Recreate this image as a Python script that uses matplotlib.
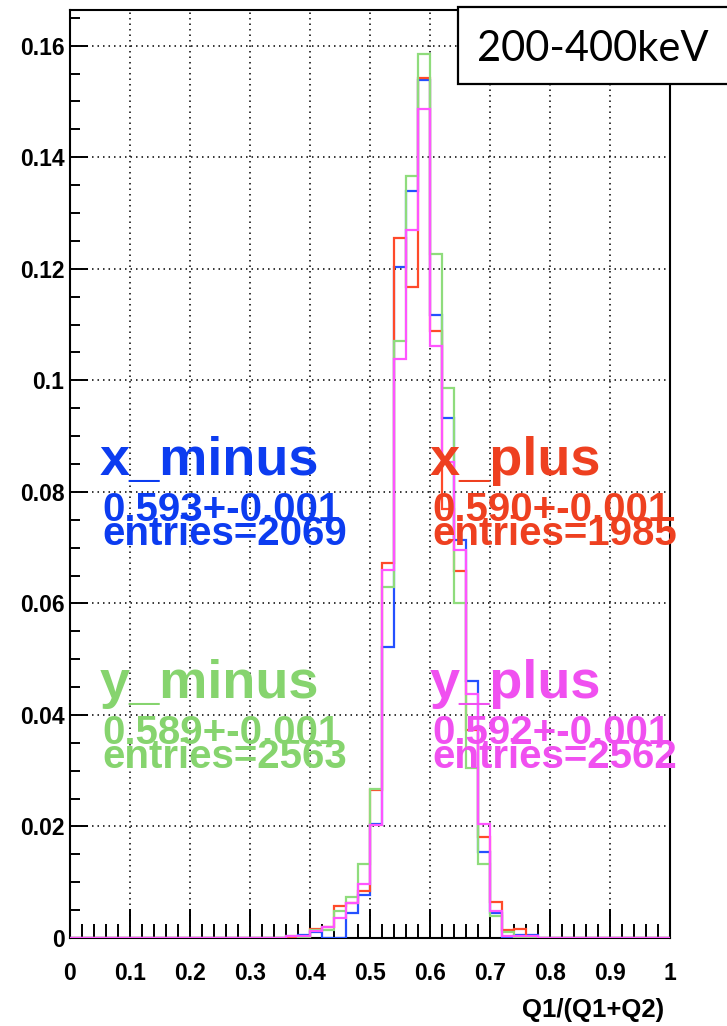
import numpy as np
import matplotlib
matplotlib.use("Agg")
import matplotlib.pyplot as plt
from matplotlib.patches import Rectangle

# ---- data -------------------------------------------------------------
# 50 bins of width 0.02 on [0, 1]; non-zero content starts at bin 0.36
bin_edges = np.linspace(0.0, 1.0, 51)
first_bin = 18  # bin starting at 0.36

x_minus = [0, 0.0005, 0.0010, 0, 0, 0.0044, 0.0077, 0.0205, 0.0521, 0.1203,
           0.1340, 0.1539, 0.1117, 0.0933, 0.0714, 0.0460, 0.0155, 0.0045,
           0, 0.0005, 0.0005]
x_plus = [0, 0, 0.0017, 0.0020, 0.0057, 0.0063, 0.0085, 0.0265, 0.0672, 0.1255,
          0.1167, 0.1542, 0.1088, 0.0770, 0.0658, 0.0373, 0.0181, 0.0065,
          0.0014, 0.0017, 0]
y_minus = [0.0004, 0, 0.0014, 0.0014, 0.0048, 0.0074, 0.0133, 0.0268, 0.0630, 0.1071,
           0.1366, 0.1586, 0.1226, 0.0987, 0.0601, 0.0304, 0.0132, 0.0039,
           0.0011, 0, 0]
y_plus = [0.0004, 0.0004, 0.0012, 0.0020, 0.0036, 0.0063, 0.0097, 0.0203, 0.0660, 0.1038,
          0.1269, 0.1487, 0.1062, 0.0853, 0.0696, 0.0437, 0.0205, 0.0048,
          0.0004, 0.0004, 0.0004]

series_names = ["x_minus", "x_plus", "y_minus", "y_plus"]
series_values = [x_minus, x_plus, y_minus, y_plus]
series_means = ["0.593+-0.001", "0.590+-0.001", "0.589+-0.001", "0.592+-0.001"]
series_entries = [2069, 1985, 2563, 2562]

x_ticks = [0, 0.1, 0.2, 0.3, 0.4, 0.5, 0.6, 0.7, 0.8, 0.9, 1.0]
x_tick_labels = ["0", "0.1", "0.2", "0.3", "0.4", "0.5", "0.6", "0.7", "0.8", "0.9", "1"]
y_ticks = [0, 0.02, 0.04, 0.06, 0.08, 0.10, 0.12, 0.14, 0.16]
y_tick_labels = ["0", "0.02", "0.04", "0.06", "0.08", "0.1", "0.12", "0.14", "0.16"]
x_label = "Q1/(Q1+Q2)"
title_box = "200-400keV"

# ---- style ------------------------------------------------------------
line_colors = ["#2450ff", "#ff4a2a", "#8fdc7c", "#ff55ff"]
text_colors = ["#0c3cf0", "#ee4020", "#86d46e", "#f050f0"]
ROOTFONT = "Liberation Sans"

W, H = 727, 1026
fig = plt.figure(figsize=(W / 100, H / 100), dpi=100)
fig.patch.set_facecolor("white")

ax_l, ax_r, ax_t, ax_b = 70, 670, 10, 938
ax = fig.add_axes([ax_l / W, 1 - ax_b / H, (ax_r - ax_l) / W, (ax_b - ax_t) / H])


def full(vals):
    arr = np.zeros(len(bin_edges) - 1)
    arr[first_bin:first_bin + len(vals)] = vals
    return arr


for vals, col in zip(series_values, line_colors):
    ax.stairs(full(vals), bin_edges, color=col, lw=1.6, baseline=0, zorder=3)

ax.set_xlim(0, 1)
ax.set_ylim(0, 0.1664)

ax.set_xticks(x_ticks)
ax.set_xticklabels(x_tick_labels)
ax.set_xticks(np.arange(0, 1.0001, 0.02), minor=True)
ax.set_yticks(y_ticks)
ax.set_yticklabels(y_tick_labels)
ax.set_yticks(np.arange(0, 0.1664, 0.005), minor=True)

ax.tick_params(axis="x", which="major", direction="in", length=21, width=1.4, pad=17)
ax.tick_params(axis="x", which="minor", direction="in", length=10, width=1.4)
ax.tick_params(axis="y", which="major", direction="in", length=13, width=1.4, pad=4)
ax.tick_params(axis="y", which="minor", direction="in", length=7, width=1.4)
for lab in ax.get_xticklabels() + ax.get_yticklabels():
    lab.set_fontfamily(ROOTFONT)
    lab.set_fontweight("bold")
    lab.set_fontsize(16.5)

ax.grid(True, which="major", color="black", linestyle=(0, (1, 2.6)), linewidth=1.1, zorder=1)
ax.set_axisbelow(True)
for sp in ax.spines.values():
    sp.set_linewidth(1.5)


def ftext(x, y, s, **kw):
    return fig.text(x / W, 1 - y / H, s, **kw)


# x label
ftext(664, 1010, x_label, ha="right", va="center", fontsize=18.5,
      fontfamily=ROOTFONT, fontweight="bold")

# series annotations
positions = [(100, 475), (430, 475), (100, 698), (430, 698)]
for name, mean, ent, col, (px, py) in zip(series_names, series_means, series_entries,
                                          text_colors, positions):
    ftext(px, py, name, ha="left", va="baseline", fontsize=39, color=col,
          fontfamily=ROOTFONT, fontweight="bold", zorder=5)
    ftext(px + 2, py + 46, mean, ha="left", va="baseline", fontsize=29, color=col,
          fontfamily=ROOTFONT, fontweight="bold", zorder=5)
    ftext(px + 2, py + 70, "entries=%d" % ent, ha="left", va="baseline", fontsize=29,
          color=col, fontfamily=ROOTFONT, fontweight="bold", zorder=5)

# energy range box
box = Rectangle((458 / W, 1 - 84 / H), 300 / W, 77 / H, transform=fig.transFigure,
                facecolor="white", edgecolor="black", linewidth=1.6, zorder=10,
                clip_on=False)
fig.patches.append(box)
ftext(593, 49, title_box, ha="center", va="center", fontsize=30,
      fontfamily="Lato", color="black", zorder=11)

fig.savefig("out.png", dpi=100, facecolor="white")
